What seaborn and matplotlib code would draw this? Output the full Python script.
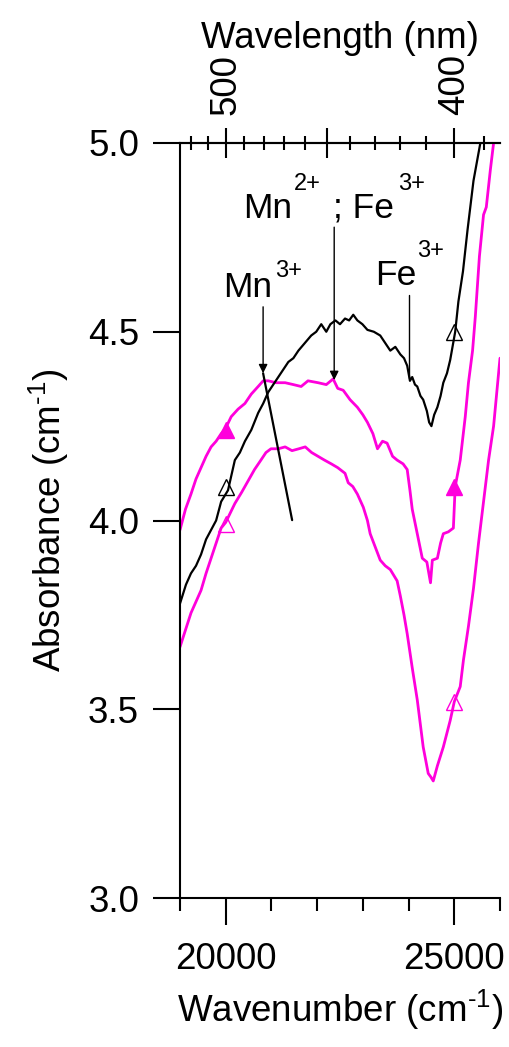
import numpy as np
import matplotlib
matplotlib.use("Agg")
import matplotlib.pyplot as plt
from matplotlib.ticker import FixedLocator, MultipleLocator, NullLocator, FormatStrFormatter
import seaborn as sns

# spectra (wavenumber in cm-1, absorbance in cm-1)
wn_black = [19000, 19130, 19240, 19350, 19460, 19570, 19680, 19790, 19900, 20050,
            20200, 20310, 20420, 20560, 20710, 20820, 20930, 21040, 21150, 21260,
            21370, 21480, 21590, 21730, 21870, 21980, 22090, 22200, 22290, 22400,
            22500, 22610, 22700, 22790, 22880, 22990, 23100, 23240, 23380, 23490,
            23600, 23710, 23820, 23900, 23970, 24030, 24080, 24140, 24190, 24260,
            24320, 24400, 24450, 24500, 24560, 24630, 24700, 24760, 24840, 24910,
            25020, 25090, 25190, 25290, 25420, 25570]
abs_black = [3.78, 3.83, 3.86, 3.88, 3.91, 3.95, 3.975, 4.00, 4.05, 4.08,
             4.16, 4.18, 4.21, 4.24, 4.285, 4.31, 4.34, 4.36, 4.38, 4.40,
             4.42, 4.43, 4.45, 4.47, 4.49, 4.50, 4.52, 4.50, 4.52, 4.53,
             4.52, 4.535, 4.53, 4.545, 4.53, 4.52, 4.505, 4.50, 4.49, 4.47,
             4.45, 4.46, 4.44, 4.43, 4.41, 4.37, 4.38, 4.36, 4.355, 4.33,
             4.32, 4.29, 4.26, 4.25, 4.28, 4.30, 4.33, 4.365, 4.39, 4.425,
             4.50, 4.58, 4.66, 4.77, 4.90, 5.00]

wn_mid = [19000, 19120, 19240, 19350, 19460, 19570, 19680, 19790, 19900, 20000,
          20120, 20270, 20420, 20560, 20710, 20820, 20930, 21100, 21300, 21480,
          21650, 21800, 22020, 22200, 22350, 22450, 22570, 22720, 22880, 23000,
          23100, 23220, 23320, 23430, 23530, 23650, 23750, 23880, 23970, 24030,
          24080, 24190, 24300, 24400, 24480, 24520, 24630, 24700, 24760, 24870,
          24980, 25020, 25130, 25240, 25310, 25400, 25460, 25550, 25640, 25700,
          25790, 25860]
abs_mid = [3.975, 4.03, 4.07, 4.11, 4.14, 4.17, 4.195, 4.21, 4.23, 4.245,
           4.275, 4.295, 4.31, 4.335, 4.355, 4.37, 4.37, 4.365, 4.365, 4.36,
           4.355, 4.37, 4.365, 4.36, 4.375, 4.35, 4.345, 4.32, 4.30, 4.28,
           4.26, 4.23, 4.19, 4.21, 4.205, 4.17, 4.16, 4.15, 4.135, 4.08,
           4.03, 3.965, 3.90, 3.89, 3.835, 3.895, 3.90, 3.94, 3.965, 3.97,
           3.98, 4.09, 4.16, 4.275, 4.365, 4.45, 4.54, 4.70, 4.81, 4.83,
           4.93, 5.00]

wn_low = [19000, 19120, 19240, 19350, 19460, 19570, 19680, 19790, 19900, 20000,
          20200, 20350, 20490, 20630, 20770, 20880, 20990, 21150, 21300, 21450,
          21600, 21740, 21880, 22020, 22160, 22310, 22450, 22610, 22680, 22780,
          22880, 23010, 23100, 23160, 23270, 23380, 23490, 23600, 23750, 23820,
          23900, 23970, 24080, 24190, 24320, 24430, 24490, 24540, 24630, 24760,
          24910, 25000, 25130, 25200, 25310, 25420, 25530, 25640, 25750, 25860,
          26000]
abs_low = [3.665, 3.71, 3.755, 3.785, 3.815, 3.86, 3.90, 3.94, 3.98, 3.995,
           4.045, 4.075, 4.105, 4.135, 4.16, 4.18, 4.19, 4.19, 4.195, 4.185,
           4.19, 4.195, 4.18, 4.17, 4.16, 4.15, 4.14, 4.125, 4.10, 4.09,
           4.07, 4.035, 4.00, 3.965, 3.93, 3.895, 3.88, 3.87, 3.84, 3.80,
           3.75, 3.70, 3.61, 3.525, 3.40, 3.33, 3.32, 3.31, 3.35, 3.40,
           3.47, 3.52, 3.56, 3.63, 3.72, 3.82, 3.94, 4.05, 4.16, 4.25,
           4.43]

# triangle markers at 20000 and 25000 cm-1
marker_wn = [20000, 25000]
mark_black = [4.09, 4.50]
mark_mid = [4.24, 4.09]
mark_low = [3.99, 3.52]

# top axis (wavelength, nm)
wl_major = [400, 450, 500]
wl_labels = {400: '400', 450: '', 500: '500'}
wl_minor = list(range(390, 530, 10))

W, H = 510, 1047
MAGENTA = '#ff00dc'
FS = 26.5      # ticks and axis labels
FS_ANN = 25.5  # band labels
SUP = 17

sns.set_style("ticks")
plt.rcParams['font.family'] = ['Liberation Sans', 'DejaVu Sans']
plt.rcParams['mathtext.fontset'] = 'custom'
plt.rcParams['mathtext.rm'] = 'Liberation Sans'
plt.rcParams['mathtext.it'] = 'Liberation Sans'
plt.rcParams['mathtext.bf'] = 'Liberation Sans:bold'
for key in ['text.color', 'axes.labelcolor', 'axes.edgecolor', 'xtick.color', 'ytick.color']:
    plt.rcParams[key] = 'black'

fig, ax = plt.subplots(figsize=(W / 100, H / 100), dpi=100)
fig.subplots_adjust(left=180 / W, right=500 / W, bottom=1 - 898 / H, top=1 - 143 / H)

sns.lineplot(x=wn_low, y=abs_low, ax=ax, color=MAGENTA, lw=2, sort=False, estimator=None)
sns.lineplot(x=wn_mid, y=abs_mid, ax=ax, color=MAGENTA, lw=2, sort=False, estimator=None)
sns.lineplot(x=wn_black, y=abs_black, ax=ax, color='black', lw=1.6, sort=False, estimator=None)

ax.plot(marker_wn, mark_black, ls='none', marker='^', ms=11, mfc='none', mec='black', mew=1)
ax.plot(marker_wn, mark_mid, ls='none', marker='^', ms=11, mfc=MAGENTA, mec=MAGENTA, mew=1)
ax.plot(marker_wn, mark_low, ls='none', marker='^', ms=11, mfc='none', mec=MAGENTA, mew=1)

ax.set_xlim(19000, 26000)
ax.set_ylim(3.0, 5.0)

# band assignments
arrow = dict(arrowstyle='-|>', color='black', lw=1, mutation_scale=13, shrinkA=0, shrinkB=0)
ax.annotate('', xy=(20818, 4.39), xytext=(20818, 4.566), arrowprops=arrow)
ax.annotate('', xy=(22373, 4.372), xytext=(22373, 4.777), arrowprops=arrow)
ax.plot([24016, 24016], [4.597, 4.377], color='black', lw=1)
ax.plot([20818, 21453], [4.39, 4.001], color='black', lw=1.6)


def ref_text(x, y, s, size, ha='left'):
    # position given in reference pixels, baseline anchored
    fig.text(x / W, 1 - y / H, s, fontsize=size, ha=ha, va='baseline')


ref_text(272, 297, 'Mn', FS_ANN, ha='right')
ref_text(275, 277, '3+', SUP)
ref_text(292, 218, 'Mn', FS_ANN, ha='right')
ref_text(294, 190, '2+', SUP)
ref_text(333, 218, '; Fe', FS_ANN)
ref_text(398, 190, '3+', SUP)
ref_text(375, 285, 'Fe', FS_ANN)
ref_text(417, 257, '3+', SUP)

# axes styling
ax.spines['right'].set_visible(False)
for s in ax.spines.values():
    s.set_linewidth(1.5)
ax.xaxis.set_major_locator(FixedLocator([20000, 25000]))
ax.xaxis.set_minor_locator(MultipleLocator(1000))
ax.yaxis.set_major_locator(MultipleLocator(0.5))
ax.yaxis.set_minor_locator(NullLocator())
ax.yaxis.set_major_formatter(FormatStrFormatter('%.1f'))
ax.tick_params(axis='both', which='major', direction='out', length=19.5, width=1.5,
               labelsize=FS, top=False, right=False)
ax.tick_params(axis='x', which='major', pad=12)
ax.tick_params(axis='y', which='major', pad=10)
ax.tick_params(axis='x', which='minor', direction='out', length=9.5, width=1.5, top=False)
ax.set_xlabel(r'Wavenumber (cm$^{\text{-1}}$)', fontsize=FS, labelpad=8)
ax.set_ylabel(r'Absorbance (cm$^{\text{-1}}$)', fontsize=FS, labelpad=12)


def wn_to_nm(x):
    x = np.asarray(x, dtype=float)
    with np.errstate(divide='ignore'):
        return 1e7 / x


secax = ax.secondary_xaxis('top', functions=(wn_to_nm, wn_to_nm))
secax.spines['top'].set_linewidth(1.5)
secax.xaxis.set_major_locator(FixedLocator(wl_major))
secax.xaxis.set_minor_locator(FixedLocator(wl_minor))
secax.xaxis.set_major_formatter(plt.FuncFormatter(lambda v, p: wl_labels.get(int(round(v)), '')))
secax.tick_params(which='major', direction='inout', length=21, width=1.5, pad=10,
                  labelsize=FS, labelrotation=90)
secax.tick_params(which='minor', direction='inout', length=9.5, width=1.5)
secax.set_xlabel('Wavelength (nm)', fontsize=FS, labelpad=4)

fig.savefig('out.png', dpi=100)
